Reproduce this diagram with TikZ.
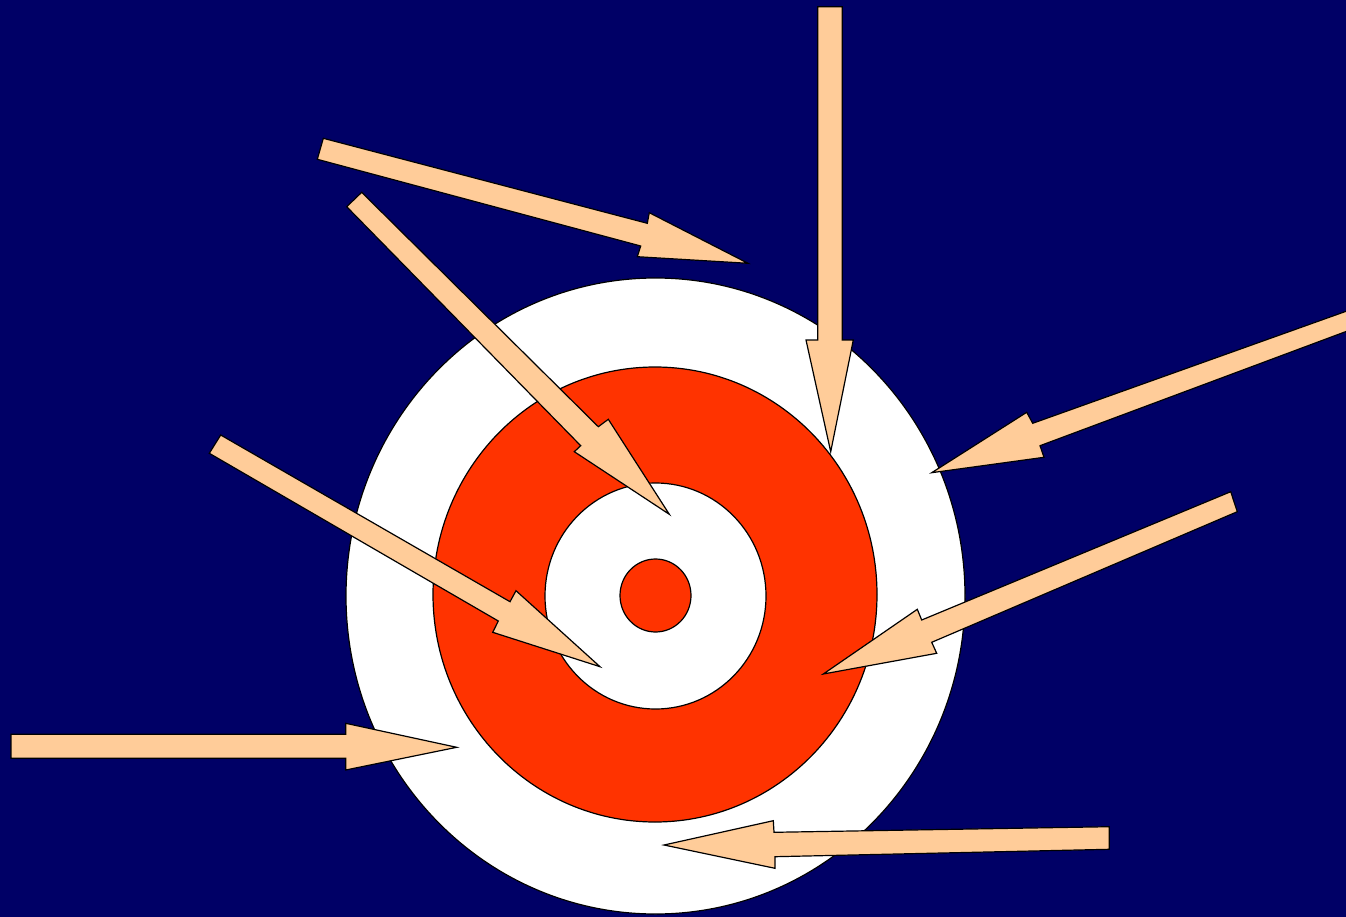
\documentclass[tikz,border=0pt]{standalone}
\definecolor{navy}{HTML}{000066}
\definecolor{peach}{HTML}{FFCC99}
\definecolor{tred}{HTML}{FF3300}
\tikzset{
  ring/.style={draw=black, line width=1.2pt},
  blockarrow/.style={draw=black, fill=peach, line width=1.2pt, line join=miter}
}
\begin{document}
\begin{tikzpicture}[x=1pt,y=-1pt]
\fill[navy] (0,0) rectangle (1346,917);
\useasboundingbox (0,0) rectangle (1346,917);
% target
\draw[ring, fill=white] (655.5,596) ellipse [x radius=309.5, y radius=318];
\draw[ring, fill=tred] (655,594.5) ellipse [x radius=222, y radius=227.5];
\draw[ring, fill=white] (655.5,596) ellipse [x radius=110.5, y radius=113];
\draw[ring, fill=tred] (655.5,595.5) ellipse [x radius=35.5, y radius=36.5];
% arrows
\draw[blockarrow] (323.3,138.3) -- (647.3,223.3) -- (649.3,212.7) -- (748,263.3) -- (637.3,256.7) -- (640.7,246) -- (317.3,159.3) -- cycle;
\draw[blockarrow] (361.7,192.3) -- (598.3,426.7) -- (608.3,419.3) -- (669.3,514.3) -- (574.3,451.7) -- (580.7,445.7) -- (346.7,206.7) -- cycle;
\draw[blockarrow] (817.7,6.7) -- (842.3,6.7) -- (842.3,340) -- (853.3,340) -- (830.7,451.7) -- (806,340) -- (817.7,340) -- cycle;
\draw[blockarrow] (1360,306.3) -- (1032.7,423.3) -- (1026.7,412.3) -- (931.7,472.7) -- (1044,457.3) -- (1040,445.7) -- (1360,326.3) -- cycle;
\draw[blockarrow] (220.7,435) -- (510,601.7) -- (516,590.7) -- (600,666.7) -- (492.7,632.3) -- (498.3,621) -- (209.3,453.3) -- cycle;
\draw[blockarrow] (1230.7,491.7) -- (921.7,620) -- (917.3,609.3) -- (823.3,674) -- (936.7,653.3) -- (931.7,642.3) -- (1237.3,511.7) -- cycle;
\draw[blockarrow] (11,734.3) -- (345.7,734.3) -- (345.7,723.3) -- (456.7,747.3) -- (345.7,770) -- (345.7,758.3) -- (11,758.3) -- cycle;
\draw[blockarrow] (1109.3,826.7) -- (774,832.3) -- (773.3,820.7) -- (664,845) -- (775,868.3) -- (775,856.7) -- (1109.3,849.3) -- cycle;
\end{tikzpicture}
\end{document}
